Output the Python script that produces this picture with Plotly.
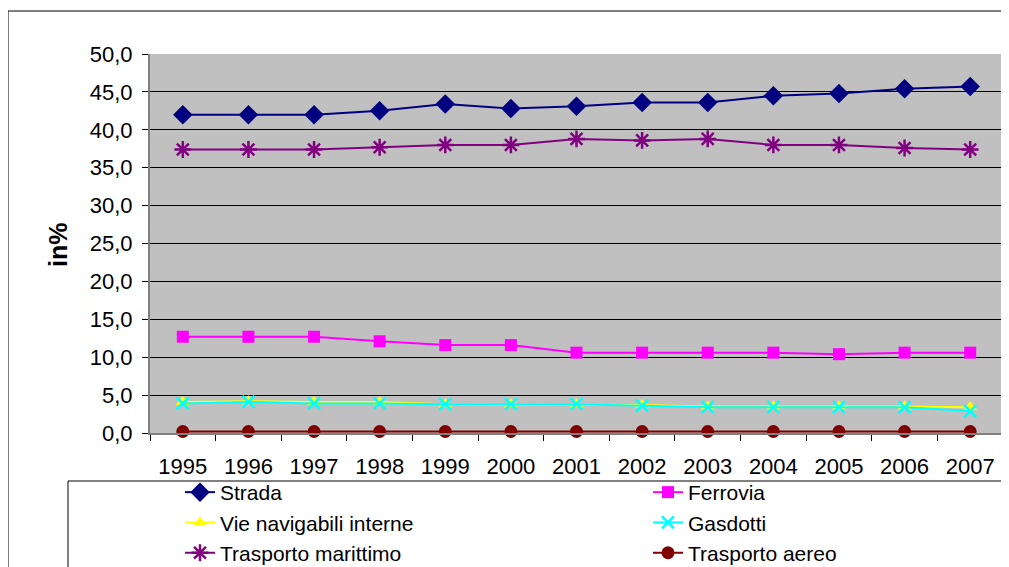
import plotly.graph_objects as go

years = ["1995", "1996", "1997", "1998", "1999", "2000", "2001",
         "2002", "2003", "2004", "2005", "2006", "2007"]
strada = [42.0, 42.0, 42.0, 42.5, 43.4, 42.8, 43.1, 43.6, 43.6, 44.5, 44.8, 45.4, 45.7]
ferrovia = [12.7, 12.7, 12.7, 12.1, 11.6, 11.6, 10.6, 10.6, 10.6, 10.6, 10.4, 10.6, 10.6]
vie_navigabili = [4.1, 4.2, 4.1, 4.1, 3.8, 3.8, 3.8, 3.7, 3.5, 3.5, 3.5, 3.5, 3.4]
gasdotti = [3.9, 4.1, 3.9, 3.9, 3.8, 3.8, 3.8, 3.6, 3.4, 3.4, 3.4, 3.4, 2.9]
marittimo = [37.4, 37.4, 37.4, 37.7, 38.0, 38.0, 38.8, 38.6, 38.8, 38.0, 38.0, 37.6, 37.4]
aereo = [0.2, 0.2, 0.2, 0.2, 0.2, 0.2, 0.2, 0.2, 0.2, 0.2, 0.2, 0.2, 0.2]

y_ticks = [0, 5, 10, 15, 20, 25, 30, 35, 40, 45, 50]

series = [
    ("Strada", strada, "#000080", dict(symbol="diamond", size=15), "legend"),
    ("Ferrovia", ferrovia, "#FF00FF", dict(symbol="square", size=12), "legend2"),
    ("Vie navigabili interne", vie_navigabili, "#FFFF00", dict(symbol="triangle-up", size=12), "legend"),
    ("Gasdotti", gasdotti, "#00FFFF", dict(symbol="x-thin-open", size=12, line=dict(width=2.5, color="#00FFFF")), "legend2"),
    ("Trasporto marittimo", marittimo, "#800080", dict(symbol="asterisk-open", size=14, line=dict(width=2.5, color="#800080")), "legend"),
    ("Trasporto aereo", aereo, "#800000", dict(symbol="circle", size=13), "legend2"),
]

fig = go.Figure()
for name, vals, color, mk, lg in series:
    m = dict(color=color)
    m.update(mk)
    fig.add_trace(go.Scatter(x=years, y=vals, name=name, mode="lines+markers",
                             line=dict(color=color, width=2), marker=m,
                             cliponaxis=False, legend=lg))

# page body has an 8px margin: work in screen pixels and shift by OFF
OFF = 8
W, H = 1009 - OFF, 567 - OFF
L, R, T, B = 150 - OFF, 1003 - OFF, 54 - OFF, 433 - OFF
pw, ph = R - L, B - T

def px(x):
    return (x - OFF - L) / pw

def py(y):
    return (B - (y - OFF)) / ph

leg_common = dict(orientation="v", xanchor="left", yanchor="top",
                  bgcolor="rgba(0,0,0,0)", borderwidth=0,
                  font=dict(size=21, color="black"), traceorder="normal")

fig.update_layout(
    width=W, height=H,
    margin=dict(l=L, r=W - R, t=T, b=H - B, pad=0, autoexpand=False),
    paper_bgcolor="white",
    plot_bgcolor="#C0C0C0",
    separators=",.",
    font=dict(family="Liberation Sans, Arial, sans-serif", color="black", size=22),
    showlegend=True,
    legend=dict(x=px(180), y=py(472), **leg_common),
    legend2=dict(x=px(648), y=py(472), **leg_common),
    xaxis=dict(type="category", tickson="boundaries", ticks="outside", ticklen=6,
               tickcolor="black", showgrid=False, showline=True, linecolor="#808080",
               linewidth=2, range=[-0.5, 12.5], ticklabelstandoff=13,
               tickfont=dict(size=22)),
    yaxis=dict(range=[0, 50], tickvals=y_ticks, tickformat=".1f", ticks="outside",
               ticklen=6, tickcolor="black", showgrid=True, gridcolor="black",
               gridwidth=1, showline=True, linecolor="#808080", linewidth=2,
               mirror=True, zeroline=False, ticklabelstandoff=5,
               tickfont=dict(size=22)),
    shapes=[
        dict(type="rect", xref="paper", yref="paper", x0=px(8), x1=px(1007),
             y0=py(600), y1=py(11), line=dict(color="black", width=1), layer="below"),
        dict(type="rect", xref="paper", yref="paper", x0=px(68), x1=px(1007),
             y0=py(600), y1=py(481), line=dict(color="black", width=1), layer="below"),
    ],
    annotations=[
        dict(text="<b>in%</b>", xref="paper", yref="paper", x=px(58), y=py(245),
             xanchor="center", yanchor="middle", textangle=-90, showarrow=False,
             font=dict(size=25, color="black")),
    ],
)

fig.write_html("out.html")
